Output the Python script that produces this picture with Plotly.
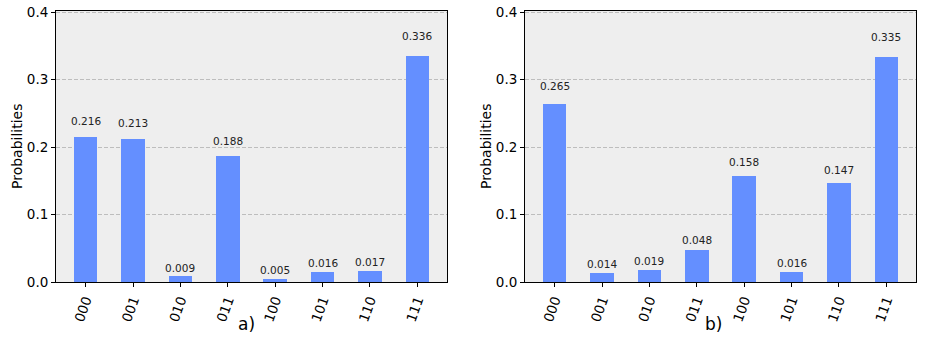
import plotly.graph_objects as go
from plotly.subplots import make_subplots

states = ["000", "001", "010", "011", "100", "101", "110", "111"]
probs_a = [0.216, 0.213, 0.009, 0.188, 0.005, 0.016, 0.017, 0.336]
probs_b = [0.265, 0.014, 0.019, 0.048, 0.158, 0.016, 0.147, 0.335]
panel_labels = ["a)", "b)"]

FONT = "DejaVu Sans"
BAR = "#648fff"
BG = "#eeeeee"

W, H = 927, 346


def fx(px):
    return px / W


def fy(py):
    return 1 - py / H


fig = make_subplots(rows=1, cols=2)

annotations = []
for i, probs in enumerate([probs_a, probs_b]):
    col = i + 1
    fig.add_trace(
        go.Bar(x=list(range(len(states))), y=probs, width=0.5,
               marker=dict(color=BAR, line=dict(width=0)), showlegend=False),
        row=1, col=col,
    )
    xref = "x" if i == 0 else "x2"
    yref = "y" if i == 0 else "y2"
    # value labels just above each bar, like qiskit's 1.05*height
    for k, v in enumerate(probs):
        annotations.append(dict(
            x=k, y=v * 1.05, xref=xref, yref=yref, text=f"{v:.3f}",
            showarrow=False, yanchor="bottom", xanchor="center",
            font=dict(family=FONT, size=10.5, color="#222222"),
        ))

axis_common = dict(showline=True, linecolor="black", linewidth=1, mirror=True,
                   ticks="outside", ticklen=4, tickcolor="black", automargin=False,
                   ticklabeloverflow="allow",
                   tickfont=dict(family=FONT, size=13.5, color="black"))

domains_x = [[fx(56), fx(447)], [fx(525), fx(916)]]
dom_y = [fy(282), fy(10.5)]

for i in range(2):
    sfx = "" if i == 0 else "2"
    fig.update_layout({
        f"xaxis{sfx}": dict(domain=domains_x[i], range=[-0.625, 7.625],
                            tickvals=list(range(len(states))), ticktext=states,
                            tickangle=-70, showgrid=False, zeroline=False,
                            **axis_common),
        f"yaxis{sfx}": dict(domain=dom_y, range=[0, 0.4025],
                            tickvals=[0, 0.1, 0.2, 0.3, 0.4],
                            ticktext=["0.0", "0.1", "0.2", "0.3", "0.4"],
                            showgrid=True, gridcolor="#bdbdbd", griddash="4px,2px",
                            gridwidth=0.8, zeroline=False,
                            title=dict(text="Probabilities", standoff=0,
                                       font=dict(family=FONT, size=14, color="black")),
                            **axis_common),
    })

for i, lab in enumerate(panel_labels):
    cx = [246, 713][i]
    annotations.append(dict(
        x=fx(cx), y=fy(324), xref="paper", yref="paper", text=lab,
        showarrow=False, xanchor="center", yanchor="middle",
        font=dict(family=FONT, size=17, color="black"),
    ))

fig.update_layout(
    width=W, height=H,
    margin=dict(l=0, r=0, t=0, b=0),
    paper_bgcolor="white",
    plot_bgcolor=BG,
    bargap=0,
    annotations=annotations,
    font=dict(family=FONT),
)

# drop the default 8px page margin so the figure sits at the window corner
fig.write_html("out.html", config={"displayModeBar": False},
               post_script="document.body.style.margin='0';")
